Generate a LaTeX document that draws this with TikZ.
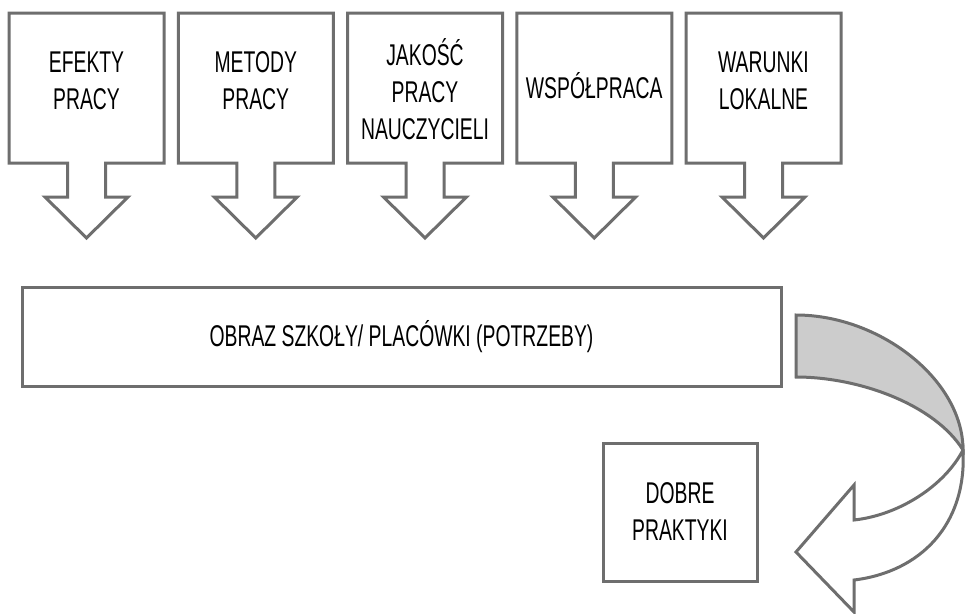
\documentclass[tikz,border=0pt]{standalone}
\usepackage{fontspec}
\setmainfont{Liberation Sans}[FakeStretch=0.645]
\definecolor{lc}{HTML}{6E6E6E}
\definecolor{fc}{HTML}{CCCCCC}
\begin{document}
\begin{tikzpicture}[x=1pt,y=-1pt,
  shapeline/.style={draw=lc, line width=3pt, line join=miter, fill=white},
  lbl/.style={align=center, font=\fontsize{30}{37}\selectfont, inner sep=0pt, text=black},
  boxnode/.style={draw=lc, line width=3pt, fill=white, align=center,
    font=\fontsize{30}{37}\selectfont, inner sep=0pt, text=black},
  downcallout/.pic={
    \draw[shapeline] (-77.5,0) -- (77.5,0) -- (77.5,150) -- (19,150) -- (19,184)
      -- (41.5,184) -- (0,225) -- (-41.5,184) -- (-19,184) -- (-19,150)
      -- (-77.5,150) -- cycle;}]
\useasboundingbox (0,0) rectangle (965,613);
\fill[white] (0,0) rectangle (965,613);

% top callouts
\pic at (86.5,13) {downcallout};
\pic at (255.75,13) {downcallout};
\pic at (425,13) {downcallout};
\pic at (594.25,13) {downcallout};
\pic at (763.5,13) {downcallout};

\node[lbl] (t1) at (86.5,80.75) {EFEKTY\\PRACY};
\node[lbl] (t2) at (255.75,80.75) {METODY\\PRACY};
\node[lbl] (t3) at (425,89.5) {JAKOŚĆ\\PRACY\\NAUCZYCIELI};
\node[lbl] (t4) at (594.25,86) {WSPÓŁPRACA};
\node[lbl] (t5) at (763.5,80.75) {WARUNKI\\LOKALNE};

% main box
\node[boxnode, minimum width=759pt, minimum height=99pt] (obraz) at (401.5,336.5)
  {OBRAZ SZKOŁY/ PLACÓWKI (POTRZEBY)};

% good practices box
\node[boxnode, minimum width=154pt, minimum height=138pt] (dobre) at (680,512)
  {DOBRE\\PRAKTYKI};

% curved arrow: grey back part
\draw[draw=lc, line width=3pt, line join=miter, fill=fc]
  (796,315) .. controls (880,315) and (963,380) .. (963,450)
  .. controls (935,405) and (860,377) .. (796,377) -- cycle;
% curved arrow: white front part with head
\draw[shapeline]
  (963,450) .. controls (967,525) and (920,572) .. (854,580)
  -- (854,612) -- (796,552) -- (854,485) -- (854,520)
  .. controls (900,515) and (945,485) .. (963,450) -- cycle;
\end{tikzpicture}
\end{document}
